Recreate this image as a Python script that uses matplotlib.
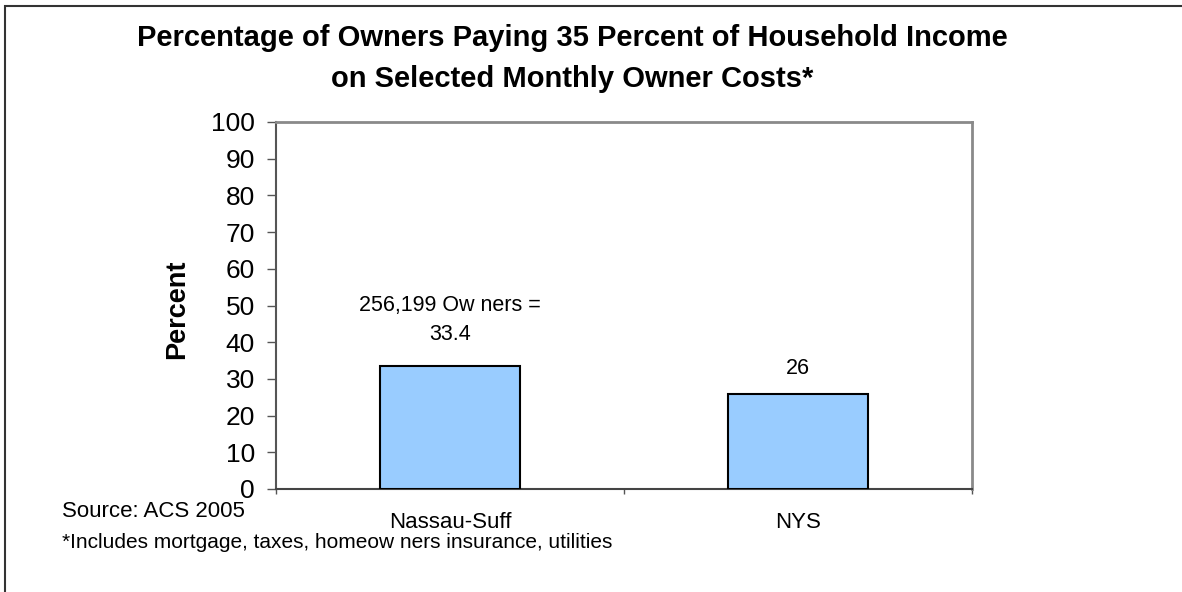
import matplotlib
matplotlib.use("Agg")
import matplotlib.pyplot as plt
from matplotlib.patches import Rectangle

categories = ["Nassau-Suff", "NYS"]
values = [33.4, 26]
bar_labels = ["256,199 Ow ners =\n33.4", "26"]
yticks = list(range(0, 101, 10))

W, H = 1182, 592
DPI = 100
plt.rcParams["font.family"] = ["Liberation Sans", "DejaVu Sans"]


def px(v):
    # pixels to points
    return v * 72 / DPI


fig = plt.figure(figsize=(W / DPI, H / DPI), dpi=DPI)
fig.patch.set_facecolor("white")

# outer chart frame (left and top edges visible)
fig.patches.append(Rectangle((4.5 / W, -0.2), 1.5, 1.2 - 5.5 / H,
                             transform=fig.transFigure, fill=False,
                             edgecolor="#333333", linewidth=1.5))

ax = fig.add_axes([276 / W, 103 / H, 696 / W, 367 / H])
x = list(range(len(categories)))
ax.bar(x, values, width=0.4, color="#99CCFF", edgecolor="black", linewidth=1.5, zorder=3)
ax.set_xlim(-0.5, len(categories) - 0.5)
ax.set_ylim(0, 100)
ax.set_yticks(yticks)
ax.tick_params(axis="y", labelsize=19, length=px(9), width=1, color="#555555",
               direction="out", pad=px(12))

# category boundaries carry the x ticks; labels sit at the bar centres
ax.set_xticks([i - 0.5 for i in range(len(categories) + 1)])
ax.set_xticklabels([])
ax.tick_params(axis="x", length=px(5), width=1, color="#555555", direction="out")
for i, c in enumerate(categories):
    ax.annotate(c, (i, 0), xycoords=("data", "axes fraction"),
                xytext=(0, -px(528 - 489)), textcoords="offset points",
                ha="center", va="baseline", fontsize=16)

for s in ("top", "right"):
    ax.spines[s].set_color("#8a8a8a")
    ax.spines[s].set_linewidth(2)
ax.spines["left"].set_color("#555555")
ax.spines["left"].set_linewidth(1.5)
ax.spines["bottom"].set_color("#444444")
ax.spines["bottom"].set_linewidth(1.5)

# value labels above each bar, one line at a time from the bottom up
gaps = [26, 20]
line_step = 29
for i, (v, lab, g) in enumerate(zip(values, bar_labels, gaps)):
    for k, line in enumerate(reversed(lab.split("\n"))):
        ax.annotate(line, (i, v), xytext=(0, px(g + k * line_step)),
                    textcoords="offset points", ha="center", va="baseline", fontsize=15.5)

fig.text(177 / W, 1 - 309 / H, "Percent", rotation=90, ha="center", va="center",
         fontsize=19.5, fontweight="bold")

fig.text(572 / W, 1 - 46 / H, "Percentage of Owners Paying 35 Percent of Household Income",
         ha="center", va="baseline", fontsize=21, fontweight="bold")
fig.text(572 / W, 1 - 87 / H, "on Selected Monthly Owner Costs*",
         ha="center", va="baseline", fontsize=21, fontweight="bold")

fig.text(62 / W, 1 - 517 / H, "Source: ACS 2005", ha="left", va="baseline", fontsize=16)
fig.text(62 / W, 1 - 548 / H, "*Includes mortgage, taxes, homeow ners insurance, utilities",
         ha="left", va="baseline", fontsize=15)

fig.savefig("out.png", dpi=DPI, facecolor="white")
